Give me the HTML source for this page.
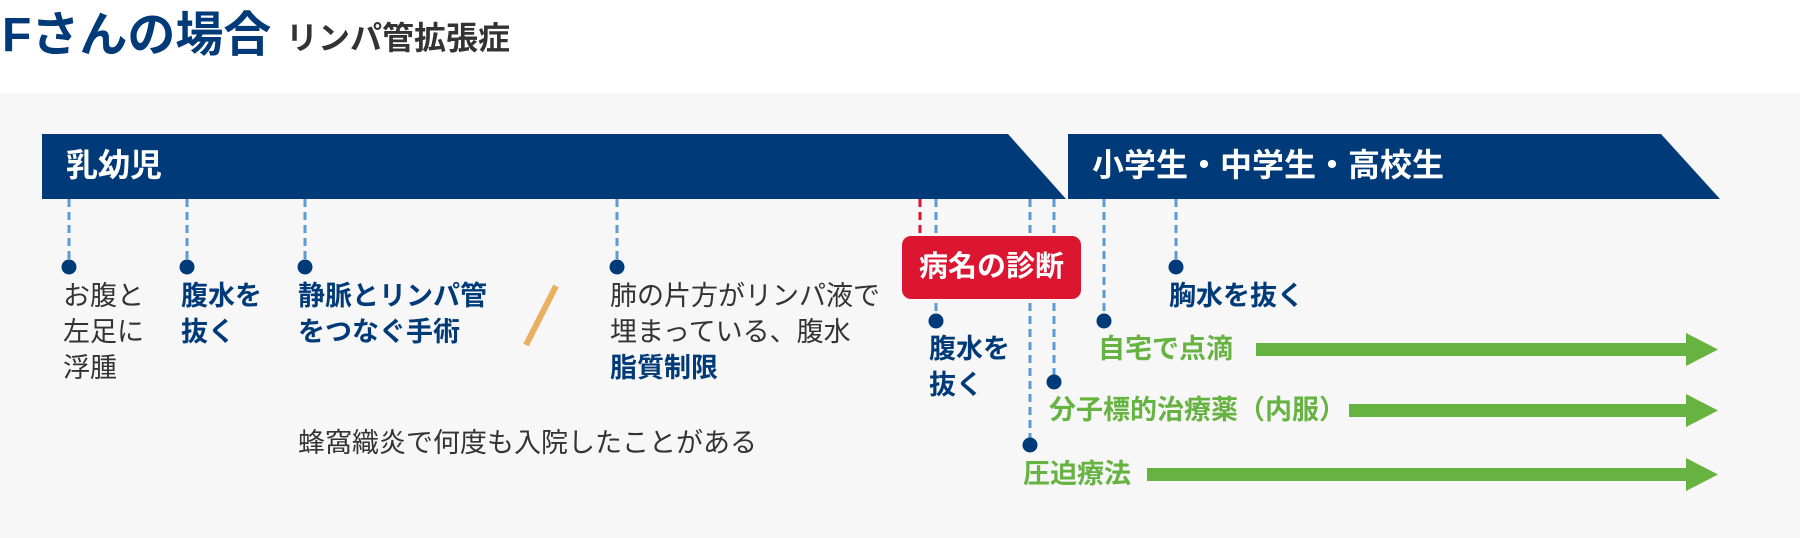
<!DOCTYPE html>
<html><head><meta charset="utf-8"><style>
body{margin:0;width:1800px;height:538px;overflow:hidden;background:#fff;font-family:"Liberation Sans","Noto Sans CJK JP",sans-serif;position:relative}
.t{position:absolute;white-space:nowrap;font-size:27px;line-height:36px;color:#333}
.b{font-weight:bold;color:#003a78}
.g{font-weight:bold;color:#66b342}
</style></head><body>
<div style="position:absolute;left:0;top:93px;width:1800px;height:445px;background:#f7f7f7"></div>
<div class="t" style="left:2px;top:7px;font-size:48px;line-height:58px;font-weight:bold;color:#003a78">Fさんの場合</div>
<div class="t" style="left:286px;top:18px;font-size:32px;line-height:40px;font-weight:bold;color:#333">リンパ管拡張症</div>
<svg style="position:absolute;left:0;top:0" width="1800" height="538">
<polygon points="42,134 1008,134 1066,199 42,199" fill="#003a78"/>
<polygon points="1068,134 1661,134 1720,199 1068,199" fill="#003a78"/>
<g stroke="#5b9bd5" stroke-width="3" stroke-dasharray="8,5">
<line x1="69" y1="199" x2="69" y2="262"/>
<line x1="187" y1="199" x2="187" y2="262"/>
<line x1="305" y1="199" x2="305" y2="262"/>
<line x1="617" y1="199" x2="617" y2="262"/>
<line x1="936" y1="199" x2="936" y2="316"/>
<line x1="1030" y1="199" x2="1030" y2="440"/>
<line x1="1054" y1="199" x2="1054" y2="377"/>
<line x1="1104" y1="199" x2="1104" y2="316"/>
<line x1="1176" y1="199" x2="1176" y2="262"/>
</g>
<line x1="920" y1="199" x2="920" y2="234" stroke="#dc1530" stroke-width="3" stroke-dasharray="8,5"/>
<g fill="#003a78">
<circle cx="69" cy="267" r="7.5"/><circle cx="187" cy="267" r="7.5"/><circle cx="305" cy="267" r="7.5"/><circle cx="617" cy="267" r="7.5"/>
<circle cx="936" cy="321" r="7.5"/><circle cx="1030" cy="445" r="7.5"/><circle cx="1054" cy="382" r="7.5"/><circle cx="1104" cy="321" r="7.5"/><circle cx="1176" cy="267" r="7.5"/>
</g>
<rect x="902" y="236" width="179" height="63" rx="9" fill="#dc1530"/>
<line x1="556" y1="286" x2="526" y2="345" stroke="#e8b060" stroke-width="6"/>
<g fill="#66b342">
<rect x="1256" y="343" width="432" height="13"/><polygon points="1686,333 1718,349.5 1686,366"/>
<rect x="1349" y="404" width="339" height="13"/><polygon points="1686,394 1718,410.5 1686,427"/>
<rect x="1147" y="468" width="541" height="13"/><polygon points="1686,458 1718,474.5 1686,491"/>
</g>
</svg>
<div class="t" style="left:66px;top:145px;font-size:32px;line-height:40px;font-weight:bold;color:#fff">乳幼児</div>
<div class="t" style="left:1092px;top:145px;font-size:32px;line-height:40px;font-weight:bold;color:#fff">小学生・中学生・高校生</div>
<div class="t" style="left:919px;top:247px;font-size:29px;line-height:40px;font-weight:bold;color:#fff">病名の診断</div>
<div class="t" style="left:63px;top:278px">お腹と<br>左足に<br>浮腫</div>
<div class="t b" style="left:181px;top:278px">腹水を<br>抜く</div>
<div class="t b" style="left:298px;top:278px">静脈とリンパ管<br>をつなぐ手術</div>
<div class="t" style="left:610px;top:278px">肺の片方がリンパ液で<br>埋まっている、腹水<br><span class="b">脂質制限</span></div>
<div class="t" style="left:298px;top:425px">蜂窩織炎で何度も入院したことがある</div>
<div class="t b" style="left:1169px;top:278px">胸水を抜く</div>
<div class="t b" style="left:929px;top:331px">腹水を<br>抜く</div>
<div class="t g" style="left:1098px;top:331px">自宅で点滴</div>
<div class="t g" style="left:1049px;top:392px">分子標的治療薬（内服）</div>
<div class="t g" style="left:1023px;top:456px">圧迫療法</div>
</body></html>
